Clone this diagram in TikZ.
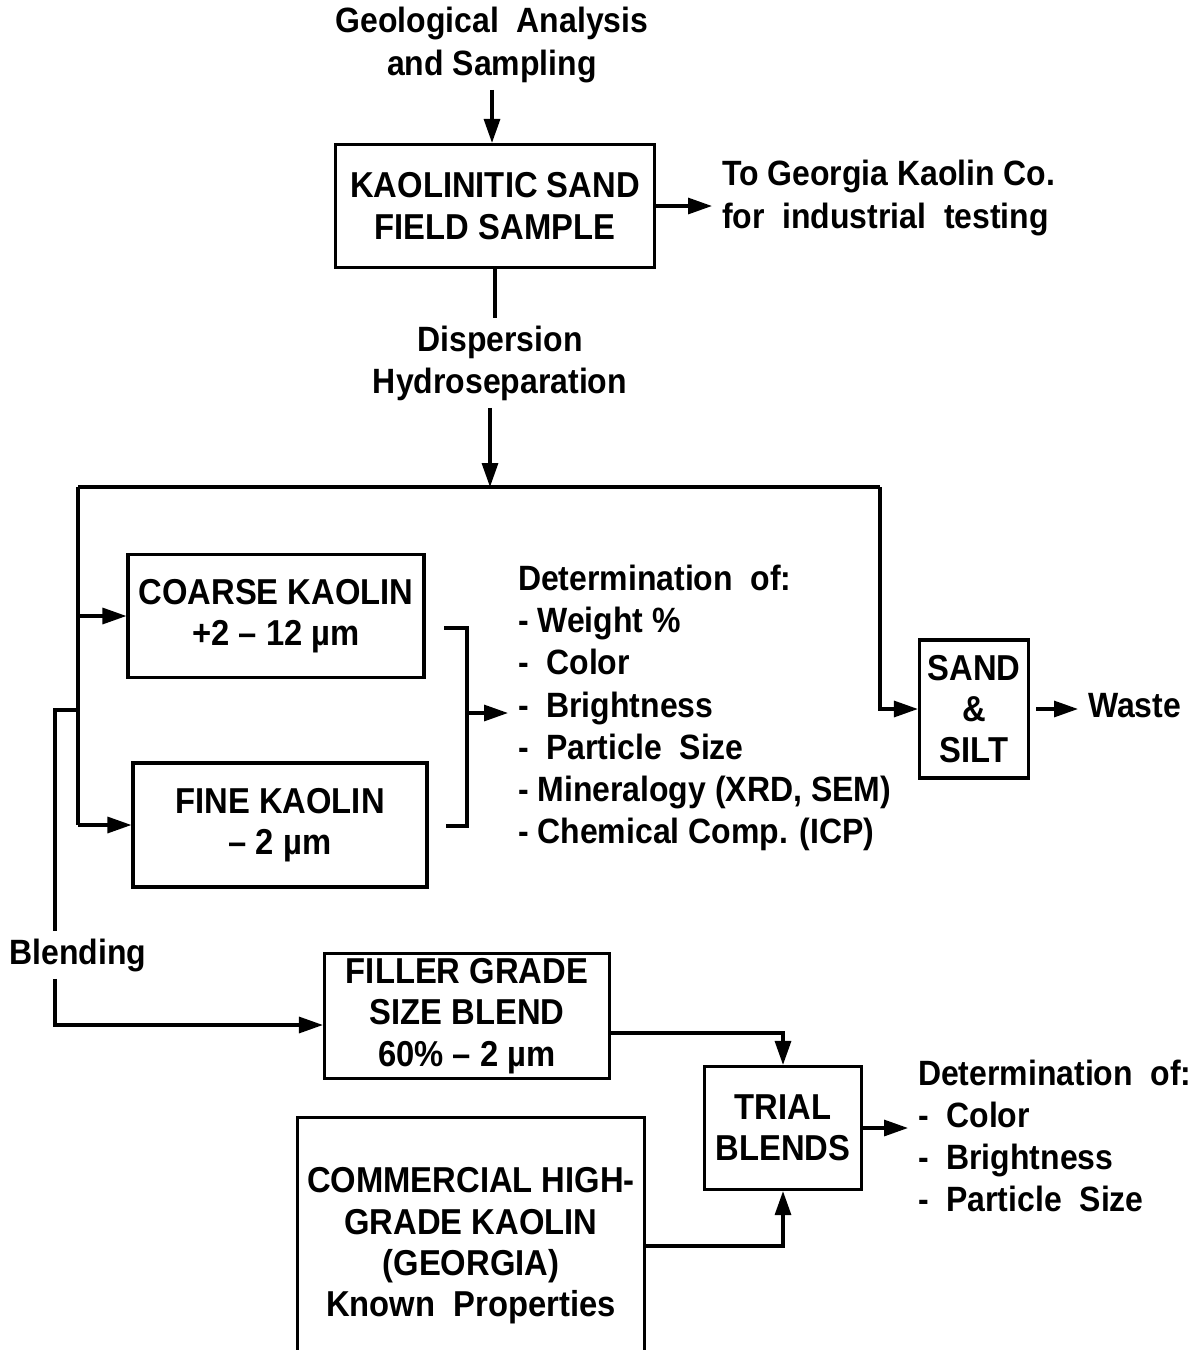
\documentclass[tikz,border=0pt]{standalone}
\usepackage{fontspec}
\setmainfont{Liberation Sans}[FakeStretch=0.91]
\usetikzlibrary{arrows.meta,positioning}

\begin{document}
\begin{tikzpicture}[
  x=0.02cm, y=-0.02cm,
  line width=1.8pt,
  box/.style={draw, align=center, inner sep=0pt,
              font={\bfseries\fontsize{20.5}{23.5}\selectfont}},
  lbl/.style={align=center, font={\bfseries\fontsize{20}{24}\selectfont}},
  list/.style={align=left, anchor=west, inner sep=0pt, outer sep=0.2cm,
               font={\bfseries\fontsize{20}{24}\selectfont}},
  arr/.style={-{Triangle[length=0.48cm,width=0.32cm]}}
]
\useasboundingbox (0,0) rectangle (1203,1350);

% source and first step
\node[lbl] (geo) at (492,45) {Geological\ \ Analysis\\and Sampling};
\node[box, minimum width=6.38cm, minimum height=2.46cm] (kaol) at (495,206)
  {KAOLINITIC SAND\\FIELD SAMPLE};
\node[list] (tocomp) at (712,198)
  {To Georgia Kaolin Co.\\for\ \ industrial\ \ testing};
\node[lbl] (disp) at (500,363) {Dispersion\\Hydroseparation};

% separation
\node[box, minimum width=5.92cm, minimum height=2.46cm] (coarse) at (276,616)
  {COARSE KAOLIN\\+2 – 12 µm};
\node[box, minimum width=5.88cm, minimum height=2.48cm] (fine) at (280,825)
  {FINE KAOLIN\\– 2 µm};
\node[box, minimum width=2.18cm, minimum height=2.76cm] (sand) at (974,709)
  {SAND\\\&\\SILT};
\node[list] (waste) at (1078,706) {Waste};
\node[list] (det1) at (508,708)
  {Determination\ \ of:\\- Weight \%\\-\ \ Color\\-\ \ Brightness\\-\ \ Particle\ \ Size\\- Mineralogy (XRD, SEM)\\- Chemical Comp. (ICP)};

% blending
\node[lbl] (blend) at (78,955) {Blending};
\node[box, minimum width=5.7cm, minimum height=2.5cm] (filler) at (467,1016)
  {FILLER GRADE\\SIZE BLEND\\60\% – 2 µm};
\node[box, minimum width=6.94cm, minimum height=5.14cm] (comm) at (471,1246)
  {COMMERCIAL HIGH-\\GRADE KAOLIN\\(GEORGIA)\\Known\ \ Properties};
\node[box, minimum width=3.14cm, minimum height=2.46cm] (trial) at (783,1128)
  {TRIAL\\BLENDS};
\node[list] (det2) at (908,1136)
  {Determination\ \ of:\\-\ \ Color\\-\ \ Brightness\\-\ \ Particle\ \ Size};

% junctions
\coordinate (top) at (490,487);
\coordinate (tl) at (78,487);
\coordinate (tr) at (880,487);
\coordinate (bj) at (78,710);
\coordinate (bl) at (55,710);
\coordinate (brt) at (444,628);
\coordinate (brb) at (446,826);
\coordinate (brk) at (467,713);

\draw[arr] (geo.south) -- (geo.south |- kaol.north);
\draw[arr] (kaol.east) -- (kaol.east -| tocomp.west);
\draw (kaol.south) -- (kaol.south |- disp.north);
\draw[arr] (disp.south -| top) -- (top);
\draw (tl) -- (tr);
\draw[arr] (tr) |- (sand.west);
\draw (tl) -- (tl |- fine.west);
\draw[arr] (tl |- coarse.west) -- (coarse.west);
\draw[arr] (tl |- fine.west) -- (fine.west);
\draw (brt) -| (brk) |- (brb);
\draw[arr] (brk) -- (brk -| det1.west);
\draw[arr, shorten <=0.12cm] (sand.east) -- (sand.east -| waste.west);
\draw (bj) -- (bl) -- (bl |- blend.north);
\draw[arr] (bl |- blend.south) |- ([yshift=-0.18cm]filler.west);
\draw[arr] ([yshift=-0.34cm]filler.east) -| (trial.north);
\draw[arr] (comm.east) -| (trial.south);
\draw[arr] (trial.east) -- (trial.east -| det2.west);
\end{tikzpicture}
\end{document}
